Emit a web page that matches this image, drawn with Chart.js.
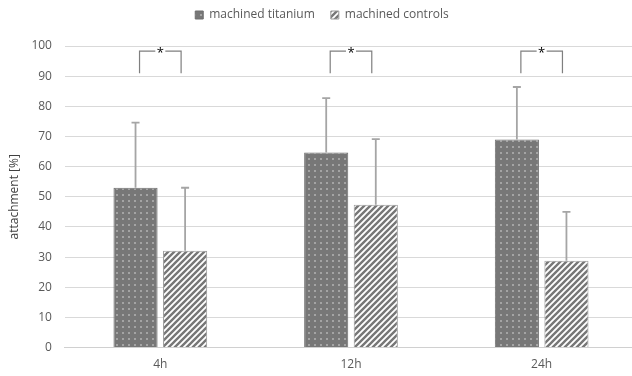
<!DOCTYPE html>
<html>
<head>
<meta charset="utf-8">
<script src="https://cdn.jsdelivr.net/npm/chart.js@4"></script>
<style>
  html, body { margin: 0; padding: 0; background: #fff; overflow: hidden; }
  #wrap { width: 632px; height: 376px; overflow: hidden; }
</style>
</head>
<body>
<div id="wrap"><canvas id="attachChart" width="638" height="376"></canvas></div>
<script>
// data
const categories = ['4h', '12h', '24h'];
const titanium = [53, 64.7, 69];
const titaniumSd = [21.6, 18, 17.4];
const controls = [32.1, 47.4, 28.8];
const controlsSd = [20.9, 21.7, 16.2];
const yTicks = [0, 10, 20, 30, 40, 50, 60, 70, 80, 90, 100];

// fill patterns
function dotPattern() {
    const c = document.createElement('canvas');
    c.width = 6; c.height = 6;
    const g = c.getContext('2d');
    g.fillStyle = '#777777';
    g.fillRect(0, 0, 6, 6);
    g.fillStyle = '#a4a4a4';
    g.fillRect(2, 2, 2, 2);
    return g.createPattern(c, 'repeat');
}

function stripePattern() {
    const c = document.createElement('canvas');
    c.width = 6; c.height = 6;
    const g = c.getContext('2d');
    g.fillStyle = '#ffffff';
    g.fillRect(0, 0, 6, 6);
    g.strokeStyle = '#777777';
    g.lineWidth = 2.4;
    g.beginPath();
    g.moveTo(-1, 7); g.lineTo(7, -1);
    g.moveTo(-4, 4); g.lineTo(4, -4);
    g.moveTo(2, 10); g.lineTo(10, 2);
    g.stroke();
    return g.createPattern(c, 'repeat');
}

// extra room under the legend
const legendGap = {
    id: 'legendGap',
    beforeInit(chart) {
        const fit = chart.legend.fit;
        chart.legend.fit = function() {
            fit.call(this);
            this.height += 15;
        };
    }
};

// upward error bars plus significance brackets
const extras = {
    id: 'extras',
    afterDatasetsDraw(chart) {
        const ctx = chart.ctx;
        const y = chart.scales.y;
        const sds = [titaniumSd, controlsSd];
        ctx.save();
        ctx.strokeStyle = '#a5a5a5';
        ctx.lineWidth = 1.8;
        chart.data.datasets.forEach(function(ds, di) {
            chart.getDatasetMeta(di).data.forEach(function(bar, i) {
                const top = y.getPixelForValue(ds.data[i] + sds[di][i]);
                ctx.beginPath();
                ctx.moveTo(bar.x, bar.y);
                ctx.lineTo(bar.x, top);
                ctx.moveTo(bar.x - 4, top);
                ctx.lineTo(bar.x + 4, top);
                ctx.stroke();
            });
        });

        // brackets
        const a = chart.getDatasetMeta(0).data;
        const b = chart.getDatasetMeta(1).data;
        const yh = y.getPixelForValue(98.3);
        const yl = y.getPixelForValue(91);
        ctx.strokeStyle = '#7f7f7f';
        ctx.lineWidth = 1.2;
        ctx.fillStyle = '#000';
        ctx.font = '13px "Open Sans", sans-serif';
        ctx.textAlign = 'center';
        ctx.textBaseline = 'middle';
        for (let i = 0; i < categories.length; i++) {
            const x1 = a[i].x + 4;
            const x2 = b[i].x - 4;
            const mid = (x1 + x2) / 2;
            ctx.beginPath();
            ctx.moveTo(x1, yl);
            ctx.lineTo(x1, yh);
            ctx.lineTo(mid - 5, yh);
            ctx.moveTo(mid + 5, yh);
            ctx.lineTo(x2, yh);
            ctx.lineTo(x2, yl);
            ctx.stroke();
            ctx.fillText('*', mid, yh + 2);
        }
        ctx.restore();
    }
};

const font12 = { family: '"Open Sans", sans-serif', size: 12 };

const ctx = document.getElementById('attachChart').getContext('2d');
new Chart(ctx, {
    type: 'bar',
    data: {
        labels: categories,
        datasets: [{
            label: 'machined titanium',
            data: titanium,
            backgroundColor: dotPattern(),
            borderColor: '#6e6e6e',
            borderWidth: 1
        }, {
            label: 'machined controls',
            data: controls,
            backgroundColor: stripePattern(),
            borderColor: '#999999',
            borderWidth: 1
        }]
    },
    options: {
        responsive: false,
        animation: false,
        devicePixelRatio: 1,
        categoryPercentage: 0.52,
        barPercentage: 0.89,
        layout: { padding: { left: 7, right: 1, top: -7, bottom: 2 } },
        plugins: {
            legend: {
                position: 'top',
                labels: {
                    boxWidth: 8,
                    boxHeight: 8,
                    color: '#595959',
                    font: font12,
                    padding: 16
                }
            },
            tooltip: { enabled: false }
        },
        scales: {
            x: {
                grid: { display: false },
                border: { color: '#d0d0d0' },
                ticks: { color: '#595959', font: font12, padding: 2 }
            },
            y: {
                min: 0,
                max: 100,
                afterBuildTicks(axis) {
                    axis.ticks = yTicks.map(function(v) { return { value: v }; });
                },
                grid: { color: '#d9d9d9', drawTicks: false },
                border: { display: false },
                ticks: { color: '#595959', font: font12, padding: 13 },
                title: {
                    display: true,
                    text: 'attachment [%]',
                    color: '#404040',
                    font: font12,
                    padding: { top: 0, bottom: -3 }
                }
            }
        }
    },
    plugins: [legendGap, extras]
});
</script>
</body>
</html>
